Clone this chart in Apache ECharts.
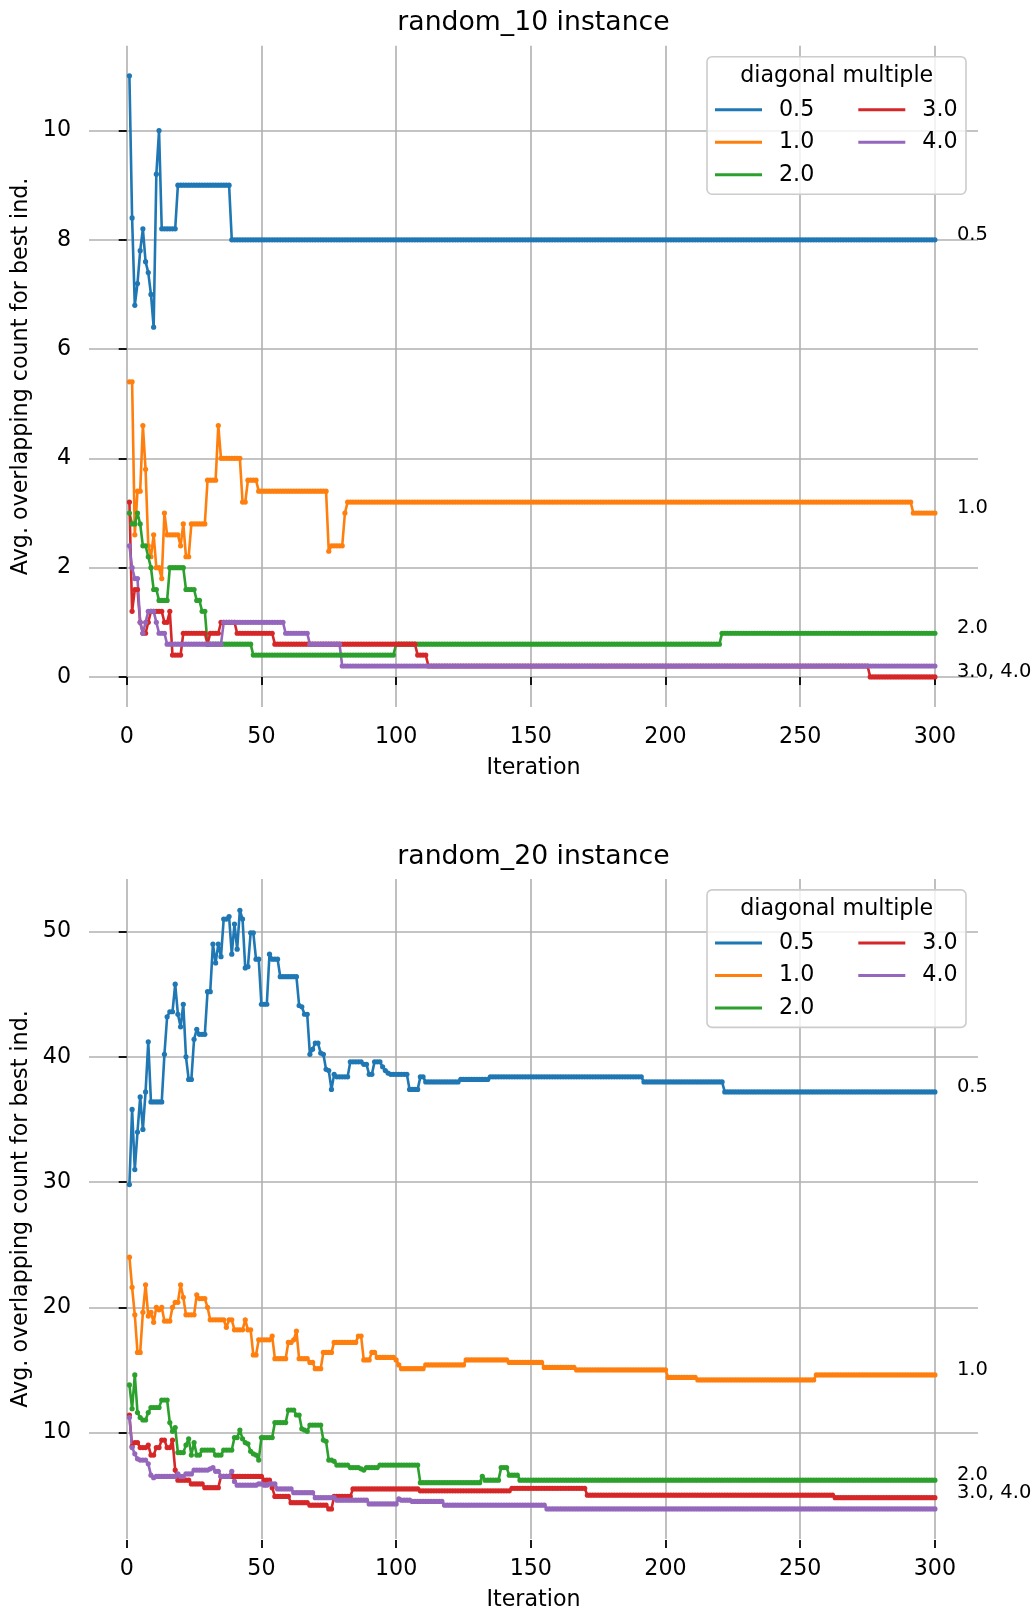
<!DOCTYPE html>
<html><head><meta charset="utf-8">
<script src="https://cdn.jsdelivr.net/npm/echarts@6/dist/echarts.min.js"></script>
<style>html,body{margin:0;padding:0;background:#fff}#c{width:1035px;height:1612px}</style>
</head><body><div id="c"></div>
<script>
const FONT = '"DejaVu Sans", "Liberation Sans", sans-serif';
const seriesNames = ['0.5', '1.0', '2.0', '3.0', '4.0'];
const colors = ['#1f77b4', '#ff7f0e', '#2ca02c', '#d62728', '#9467bd'];
const titles = ['random_10 instance', 'random_20 instance'];
const xTicks = [0, 50, 100, 150, 200, 250, 300];
const yTicksTop = [0, 2, 4, 6, 8, 10];
const yTicksBottom = [10, 20, 30, 40, 50];
const nIter = 300;

// Each entry: [first iteration of the run, value held until the next entry]
const top05 = [[1,11.0],[2,8.4],[3,6.8],[4,7.2],[5,7.8],[6,8.2],[7,7.6],[8,7.4],[9,7.0],[10,6.4],[11,9.2],[12,10.0],[13,8.2],[19,9.0],[39,8.0]];
const top10 = [[1,5.4],[3,2.6],[4,3.4],[6,4.6],[7,3.8],[8,2.4],[9,2.2],[10,2.6],[11,2.0],[13,1.8],[14,3.0],[15,2.6],[20,2.4],[21,2.8],[22,2.2],[24,2.8],[30,3.6],[34,4.6],[35,4.0],[43,3.2],[45,3.6],[49,3.4],[75,2.3],[76,2.4],[81,3.0],[82,3.2],[292,3.0]];
const top20 = [[1,3.0],[2,2.8],[4,3.0],[5,2.8],[6,2.4],[8,2.2],[9,2.0],[10,1.6],[12,1.4],[16,2.0],[22,1.6],[26,1.4],[28,1.2],[30,0.6],[47,0.4],[100,0.6],[221,0.8]];
const top30 = [[1,3.2],[2,1.2],[3,1.6],[5,1.0],[6,0.8],[8,1.0],[9,1.2],[14,1.0],[16,1.2],[17,0.4],[21,0.8],[30,0.6],[31,0.8],[35,1.0],[41,0.8],[55,0.6],[108,0.4],[112,0.2],[276,0.0]];
const top40 = [[1,2.4],[2,2.0],[3,1.8],[5,1.0],[6,0.8],[7,1.0],[8,1.2],[11,1.0],[12,0.8],[15,0.6],[36,1.0],[59,0.8],[68,0.6],[80,0.2]];

const bot05 = [[1,29.8],[2,35.8],[3,31.0],[4,34.0],[5,36.8],[6,34.2],[7,37.2],[8,41.2],[9,36.4],[14,40.2],[15,43.2],[16,43.6],[18,45.8],[19,43.4],[20,42.4],[21,44.2],[22,40.0],[23,38.2],[25,41.4],[26,42.2],[27,41.8],[30,45.2],[32,49.0],[33,47.5],[34,49.0],[35,48.0],[36,51.0],[38,51.2],[39,48.2],[40,50.6],[41,48.6],[42,51.7],[43,51.0],[44,47.1],[45,47.2],[46,49.9],[48,47.8],[50,44.2],[53,48.2],[54,47.8],[57,46.4],[64,44.1],[65,44.0],[66,43.4],[68,40.2],[69,40.6],[70,41.1],[72,40.3],[73,40.2],[74,39.0],[75,38.9],[76,37.4],[77,38.6],[78,38.4],[83,39.6],[88,39.4],[90,38.6],[92,39.6],[95,39.2],[96,38.9],[97,38.7],[98,38.6],[105,37.4],[109,38.4],[111,38.0],[124,38.2],[135,38.4],[192,38.0],[222,37.2]];
const bot10 = [[1,24.0],[2,21.6],[3,19.4],[4,16.4],[6,19.6],[7,21.8],[8,19.3],[9,19.6],[10,18.8],[11,20.0],[12,19.8],[13,20.0],[14,18.9],[17,20.0],[18,20.4],[20,21.8],[21,20.8],[22,19.4],[26,21.0],[27,20.7],[30,20.0],[31,19.0],[37,18.4],[38,19.0],[40,18.2],[44,19.0],[45,18.2],[47,16.2],[49,17.4],[54,17.7],[55,15.9],[60,17.2],[62,17.4],[63,18.1],[64,15.9],[68,15.6],[70,15.1],[73,16.4],[77,17.2],[86,17.7],[88,15.8],[91,16.4],[93,16.0],[100,15.8],[101,15.4],[102,15.1],[111,15.4],[126,15.8],[142,15.6],[155,15.2],[167,15.0],[201,14.4],[212,14.2],[256,14.6]];
const bot20 = [[1,13.8],[2,11.9],[3,14.6],[4,11.6],[5,11.2],[6,11.0],[8,11.6],[9,12.0],[13,12.6],[16,10.8],[17,10.1],[18,10.4],[19,8.4],[22,9.0],[23,9.5],[24,8.2],[25,9.2],[26,8.2],[28,8.6],[33,8.2],[36,8.6],[40,9.6],[42,10.2],[43,9.5],[44,9.2],[45,9.1],[46,8.5],[47,8.3],[48,8.2],[49,7.8],[50,9.6],[55,10.8],[60,11.8],[63,11.4],[65,10.3],[66,10.2],[67,10.1],[68,10.6],[73,9.4],[74,9.3],[75,7.8],[77,7.7],[78,7.4],[83,7.2],[87,7.1],[88,7.0],[89,7.2],[94,7.4],[109,6.0],[132,6.5],[133,6.2],[139,7.2],[142,6.6],[146,6.2]];
const bot30 = [[1,11.4],[2,8.9],[3,9.2],[5,8.8],[8,9.0],[9,8.2],[11,8.8],[13,9.4],[15,8.8],[17,9.4],[18,7.0],[19,6.2],[24,5.9],[29,5.6],[35,6.5],[51,6.2],[54,5.6],[55,4.9],[61,4.4],[68,4.2],[75,3.9],[77,4.9],[84,5.5],[109,5.35],[143,5.55],[171,5.0],[263,4.8]];
const bot40 = [[1,11.2],[2,8.8],[3,8.3],[4,7.9],[5,7.8],[8,7.5],[9,6.6],[10,6.4],[11,6.5],[19,6.7],[20,6.5],[22,6.7],[25,7.0],[31,7.1],[32,7.2],[33,6.9],[35,6.5],[39,6.9],[40,6.1],[41,5.8],[49,5.9],[51,5.8],[53,5.9],[56,5.5],[62,5.2],[70,4.8],[78,4.6],[90,4.3],[101,4.7],[102,4.6],[106,4.5],[118,4.2],[156,3.9]];

const endLabelsTop = ['0.5', '1.0', '2.0', '3.0, 4.0', null];
const endLabelsBottom = ['0.5', '1.0', '2.0', '3.0, 4.0', null];

function expand(runs) {
  const out = [];
  let k = 0;
  for (let i = 1; i <= nIter; i++) {
    while (k + 1 < runs.length && runs[k + 1][0] <= i) k++;
    out.push([i, runs[k][1]]);
  }
  return out;
}

function mkSeries(runs, idx, gi, lab) {
  return {
    type: 'line', name: seriesNames[idx], xAxisIndex: gi, yAxisIndex: gi,
    data: expand(runs), color: colors[idx],
    lineStyle: { width: 2.6, color: colors[idx] },
    symbol: 'circle', symbolSize: 5.2, showAllSymbol: true,
    itemStyle: { color: colors[idx] },
    emphasis: { disabled: true },
    endLabel: lab ? { show: true, formatter: lab, color: '#000', fontSize: 19.5, fontFamily: FONT, distance: 22, offset: [0, -4.8] } : { show: false }
  };
}

const grids = [
  { left: 89, right: 57, top: 45.8, height: 661.2 },
  { left: 89, right: 57, top: 879, height: 661.5 }
];

function mkX(gi) {
  return {
    type: 'value', gridIndex: gi, min: -14, max: 316, offset: 1,
    name: 'Iteration', nameLocation: 'middle', nameGap: 49,
    nameTextStyle: { fontSize: 22.2, fontFamily: FONT, color: '#000' },
    axisLine: { show: false },
    axisTick: { show: true, length: 8, customValues: xTicks, lineStyle: { color: '#000', width: 1.8 } },
    axisLabel: { customValues: xTicks, margin: 18, fontSize: 22.2, fontFamily: FONT, color: '#000' },
    splitLine: { show: true, lineStyle: { color: '#b0b0b0', width: 1.6 } }
  };
}
function mkY(gi, min, max, ticks) {
  return {
    type: 'value', gridIndex: gi, min: min, max: max, offset: 1,
    name: 'Avg. overlapping count for best ind.', nameLocation: 'middle', nameGap: 54, nameRotate: 90,
    nameTextStyle: { fontSize: 22.2, fontFamily: FONT, color: '#000' },
    axisLine: { show: false },
    axisTick: { show: true, length: 8, customValues: ticks, lineStyle: { color: '#000', width: 1.8 } },
    axisLabel: { customValues: ticks, margin: 17, fontSize: 22.2, fontFamily: FONT, color: '#000' },
    splitLine: { show: true, lineStyle: { color: '#b0b0b0', width: 1.6 } }
  };
}

function mkLegends(dy) {
  const base = { orient: 'vertical', padding: 0, itemWidth: 47, itemHeight: 3, icon: 'rect', itemGap: 10.5,
    selectedMode: false, z: 110,
    textStyle: { fontSize: 22.2, fontFamily: FONT, color: '#000', lineHeight: 22, padding: [0, 0, 0, 12] } };
  return [
    Object.assign({}, base, { left: 715, top: 98.8 + dy, data: ['0.5', '1.0', '2.0'] }),
    Object.assign({}, base, { left: 858.3, top: 98.8 + dy, data: ['3.0', '4.0'] })
  ];
}
function mkLegendBox(dy) {
  return [
    { type: 'rect', shape: { x: 707, y: 56.7 + dy, width: 259, height: 137.5, r: 5 },
      style: { fill: 'rgba(255,255,255,0.8)', stroke: '#cccccc', lineWidth: 1.6 }, z: 100 },
    { type: 'text', x: 836.7, y: 76.5 + dy, z: 111,
      style: { text: 'diagonal multiple', font: '22.2px ' + FONT, fill: '#000', textAlign: 'center', textVerticalAlign: 'middle' } }
  ];
}

const dyBottom = 879 - 45.8;
const topRuns = [top05, top10, top20, top30, top40];
const botRuns = [bot05, bot10, bot20, bot30, bot40];
const series = [];
topRuns.forEach((r, i) => series.push(mkSeries(r, i, 0, endLabelsTop[i])));
botRuns.forEach((r, i) => series.push(mkSeries(r, i, 1, endLabelsBottom[i])));

const chart = echarts.init(document.getElementById('c'), null, { renderer: 'canvas' });
chart.setOption({
  animation: false,
  backgroundColor: '#ffffff',
  title: [
    { text: titles[0], left: 533.5, top: 10, textAlign: 'center', padding: 0,
      textStyle: { fontSize: 26.7, fontWeight: 'normal', fontFamily: FONT, color: '#000', lineHeight: 27 } },
    { text: titles[1], left: 533.5, top: 10 + dyBottom, textAlign: 'center', padding: 0,
      textStyle: { fontSize: 26.7, fontWeight: 'normal', fontFamily: FONT, color: '#000', lineHeight: 27 } }
  ],
  grid: grids,
  xAxis: [mkX(0), mkX(1)],
  yAxis: [mkY(0, -0.55, 11.55, yTicksTop), mkY(1, 1.5, 54.2, yTicksBottom)],
  legend: mkLegends(0).concat(mkLegends(dyBottom)),
  graphic: mkLegendBox(0).concat(mkLegendBox(dyBottom)),
  series: series
});
</script></body></html>
